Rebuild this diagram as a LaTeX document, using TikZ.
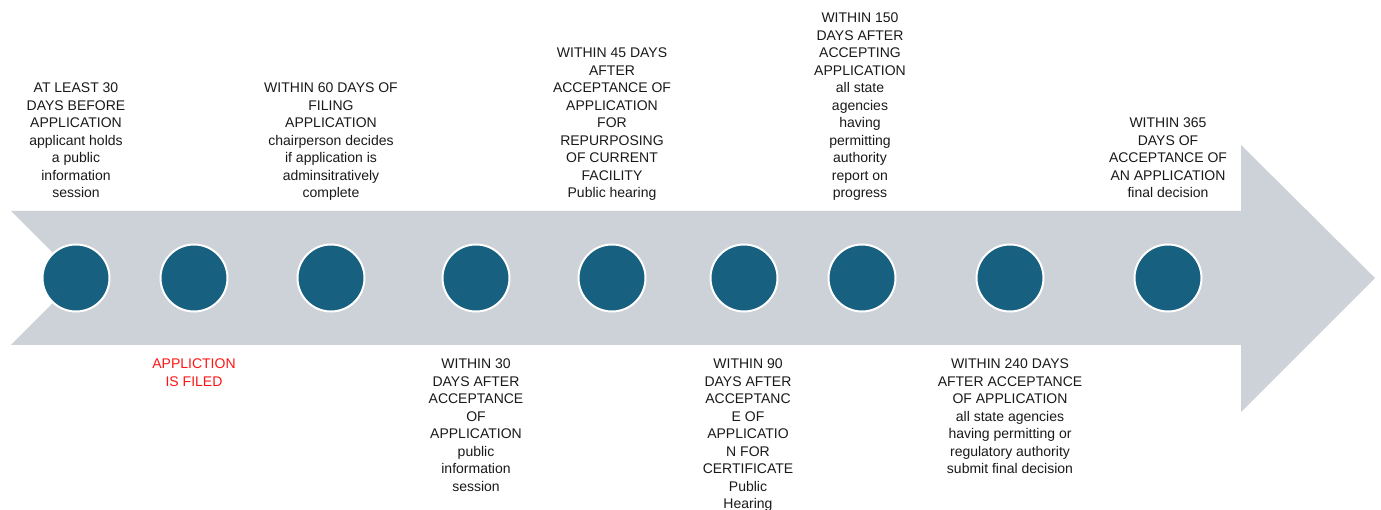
\documentclass[tikz,border=0pt]{standalone}
\usepackage{fontspec}
\setmainfont{Liberation Sans}
\definecolor{arrowgray}{RGB}{205,209,216}
\definecolor{dotblue}{RGB}{23,96,128}
\definecolor{txt}{RGB}{25,25,25}
\definecolor{redtxt}{RGB}{255,20,20}
\tikzset{
  dot/.style={circle, fill=dotblue, draw=white, line width=2pt, minimum size=67pt, inner sep=0},
  lbl/.style={align=center, inner sep=0, text=txt, font=\fontsize{14}{17.5}\selectfont, text depth=0pt},
  toplbl/.style={lbl, anchor=south},
  botlbl/.style={lbl, anchor=north},
}
\begin{document}
\begin{tikzpicture}[x=1pt,y=-1pt]
\useasboundingbox (0,0) rectangle (1381,510);
\fill[arrowgray] (11,211) -- (1241,211) -- (1241,145) -- (1375,278) -- (1241,412) -- (1241,345) -- (11,345) -- (78,278) -- cycle;
\foreach \n/\x in {d1/76,d2/194,d3/331,d4/476,d5/612,d6/744,d7/862,d8/1010,d9/1168}
  \node[dot] (\n) at (\x,278) {};
\node[toplbl] (t1) at (76,198) {AT LEAST 30\\DAYS BEFORE\\APPLICATION\\applicant holds\\a public\\information\\session};
\node[toplbl] (t3) at (331,198) {WITHIN 60 DAYS OF\\FILING\\APPLICATION\\chairperson decides\\if application is\\adminsitratively\\complete};
\node[toplbl] (t5) at (612,198) {WITHIN 45 DAYS\\AFTER\\ACCEPTANCE OF\\APPLICATION\\FOR\\REPURPOSING\\OF CURRENT\\FACILITY\\Public hearing};
\node[toplbl] (t7) at (860,198) {WITHIN 150\\DAYS AFTER\\ACCEPTING\\APPLICATION\\all state\\agencies\\having\\permitting\\authority\\report on\\progress};
\node[toplbl] (t9) at (1168,198) {WITHIN 365\\DAYS OF\\ACCEPTANCE OF\\AN APPLICATION\\final decision};
\node[botlbl, text=redtxt] (b2) at (194,359) {APPLICTION\\IS FILED};
\node[botlbl] (b4) at (476,359) {WITHIN 30\\DAYS AFTER\\ACCEPTANCE\\OF\\APPLICATION\\public\\information\\session};
\node[botlbl] (b6) at (748,359) {WITHIN 90\\DAYS AFTER\\ACCEPTANC\\E OF\\APPLICATIO\\N FOR\\CERTIFICATE\\Public\\Hearing};
\node[botlbl] (b8) at (1010,359) {WITHIN 240 DAYS\\AFTER ACCEPTANCE\\OF APPLICATION\\all state agencies\\having permitting or\\regulatory authority\\submit final decision};
\end{tikzpicture}
\end{document}
